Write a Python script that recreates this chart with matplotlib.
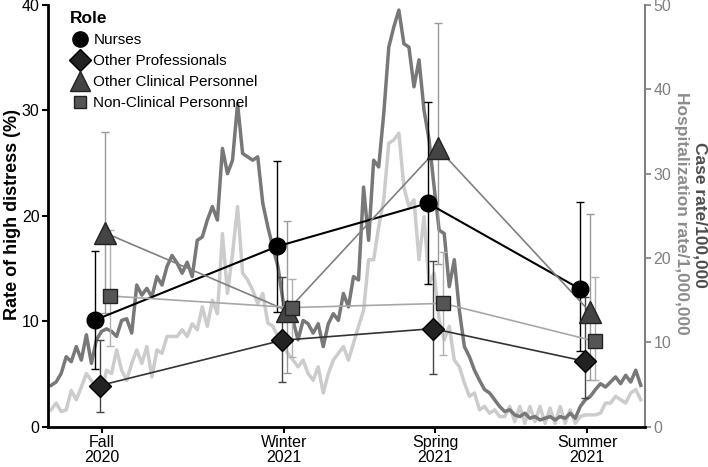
import numpy as np
import matplotlib
matplotlib.use("Agg")
import matplotlib.pyplot as plt
from matplotlib.lines import Line2D

plt.rcParams['font.family'] = ['Liberation Sans', 'DejaVu Sans']

# survey waves (day index on the x axis) and labels
wave_days = [32.1, 140.8, 230.5, 321.2]
wave_labels = ["Fall\n2020", "Winter\n2021", "Spring\n2021", "Summer\n2021"]

roles = ["Nurses", "Other Professionals", "Other Clinical Personnel", "Non-Clinical Personnel"]
nurses = [10.1, 17.1, 21.2, 13.05]
nurses_lo = [5.5, 10.85, 13.5, 7.2]
nurses_hi = [16.7, 25.2, 30.8, 21.3]
other_prof = [3.9, 8.2, 9.3, 6.2]
other_prof_lo = [1.4, 4.25, 5.0, 2.7]
other_prof_hi = [8.2, 14.2, 15.7, 12.3]
other_clin = [18.4, 11.0, 26.4, 10.85]
other_clin_lo = [10.8, 5.1, 15.4, 4.4]
other_clin_hi = [28.0, 19.5, 38.3, 20.2]
non_clin = [12.4, 11.3, 11.7, 8.1]
non_clin_lo = [7.7, 6.6, 6.8, 4.4]
non_clin_hi = [18.7, 14.0, 16.6, 14.2]

# community rates, every 3 days
rate_days = np.arange(2, 354, 3)
case_rate = [4.9, 5.3, 6.3, 8.3, 7.7, 9.5, 7.9, 10.9, 7.5, 10.3, 11.3, 11.6, 11.3, 10.7, 12.6, 12.8,
             11.1, 16.8, 15.6, 16.4, 15.4, 17.8, 16.8, 19.0, 20.3, 19.4, 18.2, 19.5, 17.8, 22.1, 22.5,
             24.5, 26.1, 24.5, 33.0, 30.0, 31.6, 38.3, 32.4, 32.0, 31.6, 32.0, 26.5, 23.7, 21.3, 19.0,
             15.0, 13.0, 12.6, 10.3, 12.6, 12.2, 11.1, 12.2, 9.5, 12.2, 13.4, 12.6, 15.8, 14.2, 17.8,
             17.4, 28.4, 22.1, 31.6, 30.8, 37.1, 45.0, 47.4, 49.4, 45.4, 45.0, 40.3, 43.5, 37.5, 34.0,
             28.4, 23.3, 22.9, 16.6, 19.8, 13.8, 9.5, 8.3, 6.7, 5.5, 4.4, 4.0, 3.2, 2.4,
             1.8, 2.0, 1.4, 1.2, 1.6, 1.0, 1.2, 0.8, 1.0, 1.2, 0.8, 1.2, 1.0, 1.6, 1.0, 2.4, 3.2, 3.6,
             4.4, 5.1, 4.7, 5.3, 5.9, 5.1, 6.1, 5.3, 6.7, 4.9]
hosp_rate = [2.0, 2.8, 1.8, 2.0, 4.3, 3.2, 4.7, 6.3, 5.5, 4.3, 3.9, 6.7, 6.3, 9.1, 6.7, 5.5, 7.5, 9.1,
             7.5, 9.5, 5.9, 9.1, 8.7, 10.7, 10.7, 10.7, 11.5, 10.7, 12.2, 11.5, 14.2,
             11.9, 15.0, 13.4, 22.9, 15.8, 20.5, 26.1, 18.2, 17.4, 16.2, 14.6, 15.8, 12.3, 11.9, 10.7,
             9.5, 8.7, 7.9, 7.1, 7.9, 6.3, 5.5, 7.1, 4.0, 6.3, 7.9, 8.7, 9.5, 7.9, 9.9,
             11.9, 13.8, 19.8, 19.8, 23.7, 26.9, 33.6, 34.0, 34.8, 28.4, 26.1, 26.9, 19.8, 24.9, 17.0,
             18.2, 12.7, 10.3, 11.9, 7.9, 7.1, 5.2, 3.6, 4.0, 2.0, 2.4, 1.6, 2.0, 1.2,
             1.2, 2.4, 0.6, 2.4, 0.4, 2.4, 0.6, 2.4, 0.4, 2.2, 0.4, 2.4, 0.4, 2.0, 0.4, 1.2, 1.4, 1.4,
             1.4, 1.6, 2.8, 2.8, 3.6, 3.2, 2.8, 4.0, 4.4, 3.2]

fig = plt.figure(figsize=(7.08, 4.67), dpi=100)
ax1 = fig.add_axes([0.0674, 0.0863, 0.8436, 0.9030])
ax2 = ax1.twinx()

# background rates on the right axis
ax2.plot(rate_days, hosp_rate, color="#cccccc", lw=2.5)
ax2.plot(rate_days, case_rate, color="#787878", lw=2.5)
ax2.set_ylim(0, 50)
ax2.set_yticks([0, 10, 20, 30, 40, 50])
ax2.tick_params(axis="y", colors="#808080", labelsize=11.5, length=4, width=1.2, pad=2)
for s in ["top", "left", "bottom"]:
    ax2.spines[s].set_visible(False)
ax2.spines["right"].set_color("#808080")
ax2.spines["right"].set_linewidth(1.5)

ax1.set_zorder(ax2.get_zorder() + 1)
ax1.patch.set_visible(False)

# role estimates with confidence intervals
series = [
    (nurses, nurses_lo, nurses_hi, "o", "black", "black", "black", "black", 12, -4.2, 1.5),
    (other_prof, other_prof_lo, other_prof_hi, "D", "#222222", "black", "#444444", "#333333", 11, -1.2, 1.2),
    (other_clin, other_clin_lo, other_clin_hi, "^", "#444444", "#222222", "#999999", "#808080", 16, 1.8, 1.2),
    (non_clin, non_clin_lo, non_clin_hi, "s", "#555555", "#222222", "#b0b0b0", "#a8a8a8", 10, 4.8, 1.2),
]
leg_sizes = [11, 11, 14, 8]
handles = []
for (vals, lo, hi, mk, fc, ec, errc, linec, ms, dx, lw), name, lms in zip(series, roles, leg_sizes):
    xs = np.array(wave_days) + dx
    vals = np.array(vals)
    yerr = [vals - np.array(lo), np.array(hi) - vals]
    ax1.plot(xs, vals, color=linec, lw=lw, zorder=3)
    ax1.errorbar(xs, vals, yerr=yerr, fmt="none", ecolor=errc, elinewidth=1.0,
                 capsize=3, capthick=1.0, zorder=2)
    ax1.plot(xs, vals, linestyle="none", marker=mk, ms=ms, mfc=fc, mec=ec, mew=1.0, zorder=4)
    handles.append(Line2D([], [], linestyle="none", marker=mk, ms=lms,
                          mfc=fc, mec=ec, mew=1.0, label=name))

ax1.set_xlim(0, 355.5)
ax1.set_ylim(0, 40)
ax1.set_yticks([0, 10, 20, 30, 40])
ax1.set_xticks(wave_days)
ax1.set_xticklabels(wave_labels, linespacing=1.0)
ax1.tick_params(axis="both", labelsize=11.5, length=4, width=1.5, colors="black", pad=2)
ax1.spines["top"].set_visible(False)
ax1.spines["right"].set_visible(False)
ax1.spines["left"].set_linewidth(2)
ax1.spines["bottom"].set_linewidth(2)

leg = ax1.legend(handles=handles, loc="upper left", bbox_to_anchor=(0.02, 1.01), frameon=False,
                 title="Role", fontsize=11, handletextpad=0.3, labelspacing=0.45,
                 title_fontproperties={"weight": "bold", "size": 12.5}, alignment="left",
                 handlelength=1.2, borderaxespad=0.3)

fig.text(13 / 708, 1 - 215 / 467, "Rate of high distress (%)", rotation=90, ha="center",
         va="center", fontsize=13, fontweight="bold", color="black")
fig.text(700 / 708, 1 - 215 / 467, "Case rate/100,000", rotation=270, ha="center", va="center",
         fontsize=12.5, fontweight="bold", color="#4d4d4d")
fig.text(681 / 708, 1 - 213 / 467, "Hospitalization rate/1,000,000", rotation=270, ha="center",
         va="center", fontsize=12.5, fontweight="bold", color="#8c8c8c")

fig.savefig("out.png", dpi=100)
